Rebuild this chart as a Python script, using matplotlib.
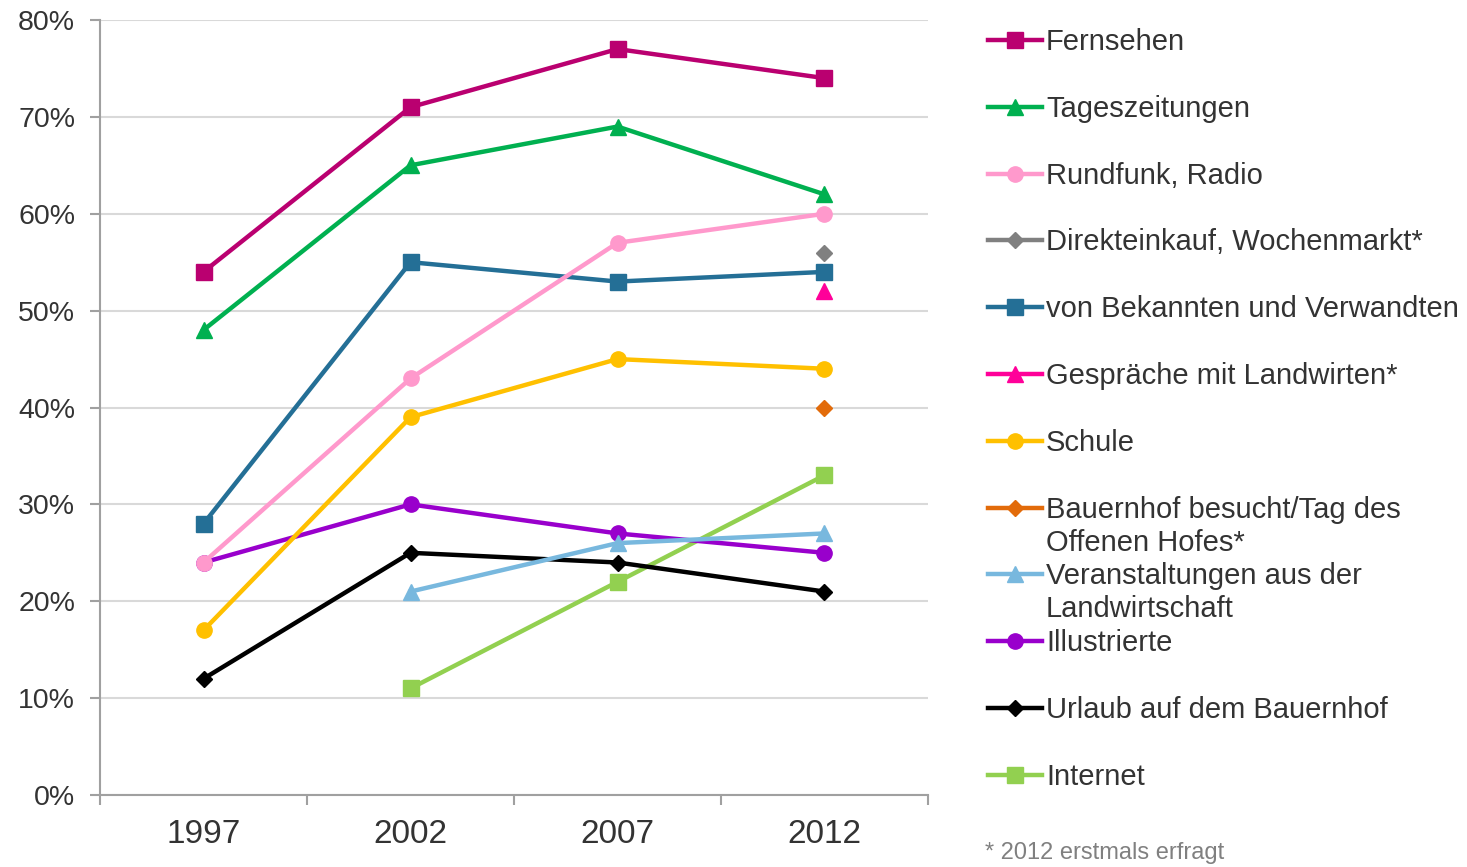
import matplotlib.pyplot as plt
from matplotlib.lines import Line2D
import numpy as np

plt.rcParams['font.family'] = ['Liberation Sans', 'DejaVu Sans']

years = ["1997", "2002", "2007", "2012"]
labels = ["Fernsehen", "Tageszeitungen", "Rundfunk, Radio",
          "Direkteinkauf, Wochenmarkt*", "von Bekannten und Verwandten",
          "Gespräche mit Landwirten*", "Schule",
          "Bauernhof besucht/Tag des\nOffenen Hofes*",
          "Veranstaltungen aus der\nLandwirtschaft", "Illustrierte",
          "Urlaub auf dem Bauernhof", "Internet"]
nan = np.nan
fernsehen = [54, 71, 77, 74]
tageszeitungen = [48, 65, 69, 62]
radio = [24, 43, 57, 60]
direkteinkauf = [nan, nan, nan, 56]
bekannte = [28, 55, 53, 54]
gespraeche = [nan, nan, nan, 52]
schule = [17, 39, 45, 44]
bauernhof = [nan, nan, nan, 40]
veranstaltungen = [nan, 21, 26, 27]
illustrierte = [24, 30, 27, 25]
urlaub = [12, 25, 24, 21]
internet = [nan, 11, 22, 33]

series = [fernsehen, tageszeitungen, radio, direkteinkauf, bekannte,
          gespraeche, schule, bauernhof, veranstaltungen, illustrierte,
          urlaub, internet]
colors = ["#BA0070", "#00B050", "#FF99CC", "#808080", "#246F96", "#FF0099",
          "#FFC000", "#E26B0A", "#78B8DE", "#9900CC", "#000000", "#92D050"]
markers = ["s", "^", "o", "D", "s", "^", "o", "D", "^", "o", "D", "s"]
msizes = [11, 11, 11, 8, 11, 11, 11, 8, 11, 11, 8, 11]

fig = plt.figure(figsize=(14.67, 8.67), dpi=100)
ax = fig.add_axes([100 / 1467, 72 / 867, 828 / 1467, 775 / 867])

x = np.arange(len(years))
# draw in reverse so upper legend entries sit on top
for vals, c, m, ms in reversed(list(zip(series, colors, markers, msizes))):
    ax.plot(x, np.array(vals, dtype=float), color=c, marker=m, markersize=ms,
            linewidth=3.2, zorder=3)

ax.set_xlim(-0.5, 3.5)
ax.set_ylim(0, 80)
ax.set_yticks(np.arange(0, 81, 10))
ax.set_yticklabels([f"{v}%" for v in range(0, 81, 10)])
ax.set_xticks(x)
ax.set_xticklabels(years)
ax.set_xticks(np.arange(-0.5, 4, 1), minor=True)
ax.tick_params(axis="x", which="major", length=0, pad=17, labelsize=24,
               labelcolor="#333333")
ax.tick_params(axis="x", which="minor", length=7, width=1.5, color="#A0A0A0")
ax.tick_params(axis="y", length=7, width=1.5, color="#A0A0A0", pad=11,
               labelsize=20.5, labelcolor="#333333")
ax.grid(axis="y", color="#D9D9D9", linewidth=1.5)
ax.set_axisbelow(True)
for s in ["top", "right"]:
    ax.spines[s].set_visible(False)
for s in ["left", "bottom"]:
    ax.spines[s].set_color("#A0A0A0")
    ax.spines[s].set_linewidth(1.5)

# legend drawn manually to place multi-line entries like the original
W, H = 1467, 867
for i, (lab, c, m, ms) in enumerate(zip(labels, colors, markers, msizes)):
    yp = 40 + 66.8 * i
    fy = 1 - yp / H
    fig.add_artist(Line2D([988 / W, 1042 / W], [fy, fy], color=c,
                          linewidth=3.2, transform=fig.transFigure))
    fig.add_artist(Line2D([1015 / W], [fy], color=c, marker=m, markersize=ms,
                          transform=fig.transFigure))
    for j, line in enumerate(lab.split("\n")):
        fig.text(1046 / W, 1 - (yp + 2 + 33 * j) / H, line, fontsize=21,
                 color="#333333", va="center", ha="left")

fig.text(985 / W, 1 - 853 / H, "* 2012 erstmals erfragt", fontsize=17,
         color="#808080", va="center", ha="left")

fig.savefig("out.png", dpi=100)
